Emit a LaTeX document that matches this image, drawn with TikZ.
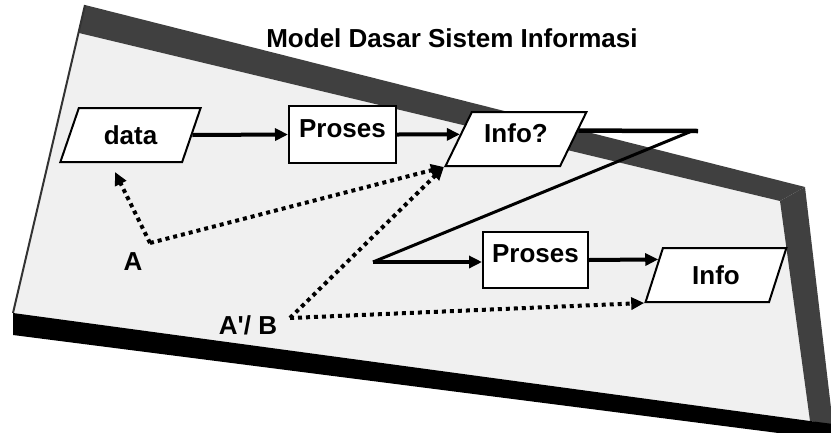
\documentclass[tikz,border=0pt]{standalone}
\usepackage{fontspec}
\setmainfont{Liberation Sans}
\usetikzlibrary{shapes.geometric,arrows.meta,calc}
\definecolor{sheet}{gray}{0.94}
\definecolor{band}{gray}{0.25}
\begin{document}
\begin{tikzpicture}[x=1pt,y=-1pt,
  every node/.style={font=\fontsize{26}{30}\selectfont\bfseries},
  procbox/.style={draw, line width=2pt, fill=white, rectangle, minimum width=107pt, minimum height=57pt, inner sep=0pt, text height=19pt, text depth=14pt},
  iobox/.style={draw, line width=2pt, fill=white, trapezium, trapezium stretches=true, inner sep=0pt, minimum height=54pt, minimum width=141pt},
  arr/.style={line width=4pt, -{Triangle[length=13pt,width=12pt]}},
  dotarr/.style={line width=4pt, dash pattern=on 4pt off 4pt, -{Triangle[length=13pt,width=12pt]}},
  lbl/.style={inner sep=0pt}
]
\useasboundingbox (0,0) rectangle (831,432);
\begin{scope}
\clip (0,0) rectangle (831,432);
% sheet
\fill[sheet] (79,33) -- (780,201) -- (810,421) -- (13,313) -- cycle;
\fill[band] (85,5) -- (805,187) -- (780,201) -- (79,33) -- cycle;
\fill[band] (805,187) -- (833,425) -- (810,421) -- (780,201) -- cycle;
\fill[black] (13,313) -- (810,421) -- (833,424) -- (833,440) -- (13,335) -- cycle;
\draw[line width=2pt, gray!40!black] (85,5) -- (13,313);
\end{scope}

\node (title) at (452,38) {Model Dasar Sistem Informasi};

\node[iobox, trapezium left angle=63.4, trapezium right angle=116.6] (data) at (130.5,135) {data};
\node[procbox] (p1) at (342.5,134.5) {Proses};
\node[iobox, trapezium left angle=58.6, trapezium right angle=121.4, text height=19pt, text depth=12pt] (i1) at (516,139) {Info?};
\node[procbox, minimum width=105pt, minimum height=56pt] (p2) at (535.5,260) {Proses};
\node[iobox, trapezium left angle=67.8, trapezium right angle=112.2] (i2) at (716,275) {Info};

\node[lbl] (A) at (133,262) {A};
\node[lbl] (AB) at (248,325) {A\textquotesingle/ B};

\coordinate (pa) at (150,243);
\coordinate (pb) at (290,318);
\coordinate (ta) at (115,172);
\coordinate (zr) at (698,131);
\coordinate (zm) at (692,131);
\coordinate (zl) at (373,262);
\coordinate (ie) at ($(i1.top right corner)!0.35!(i1.bottom right corner)$);
\coordinate (il) at ($(i1.top left corner)!0.417!(i1.bottom left corner)$);
\coordinate (jl) at ($(i2.top left corner)!0.222!(i2.bottom left corner)$);

\draw[arr] (data.east) -- (p1.west);
\draw[arr] (p1.east) -- (il);
\draw[line width=4.5pt] (ie) -- (zr);
\draw[line width=3pt] (zm) -- (zl);
\draw[arr] (zl) -- (zl -| p2.west);
\draw[arr] (p2.east) -- (jl);

\draw[dotarr] (pa) -- (ta);
\draw[dotarr] (pa) -- (i1.bottom left corner);
\draw[dotarr] (pb) -- (i1.bottom left corner);
\draw[dotarr] (pb) -- (i2.bottom left corner);
\end{tikzpicture}
\end{document}
